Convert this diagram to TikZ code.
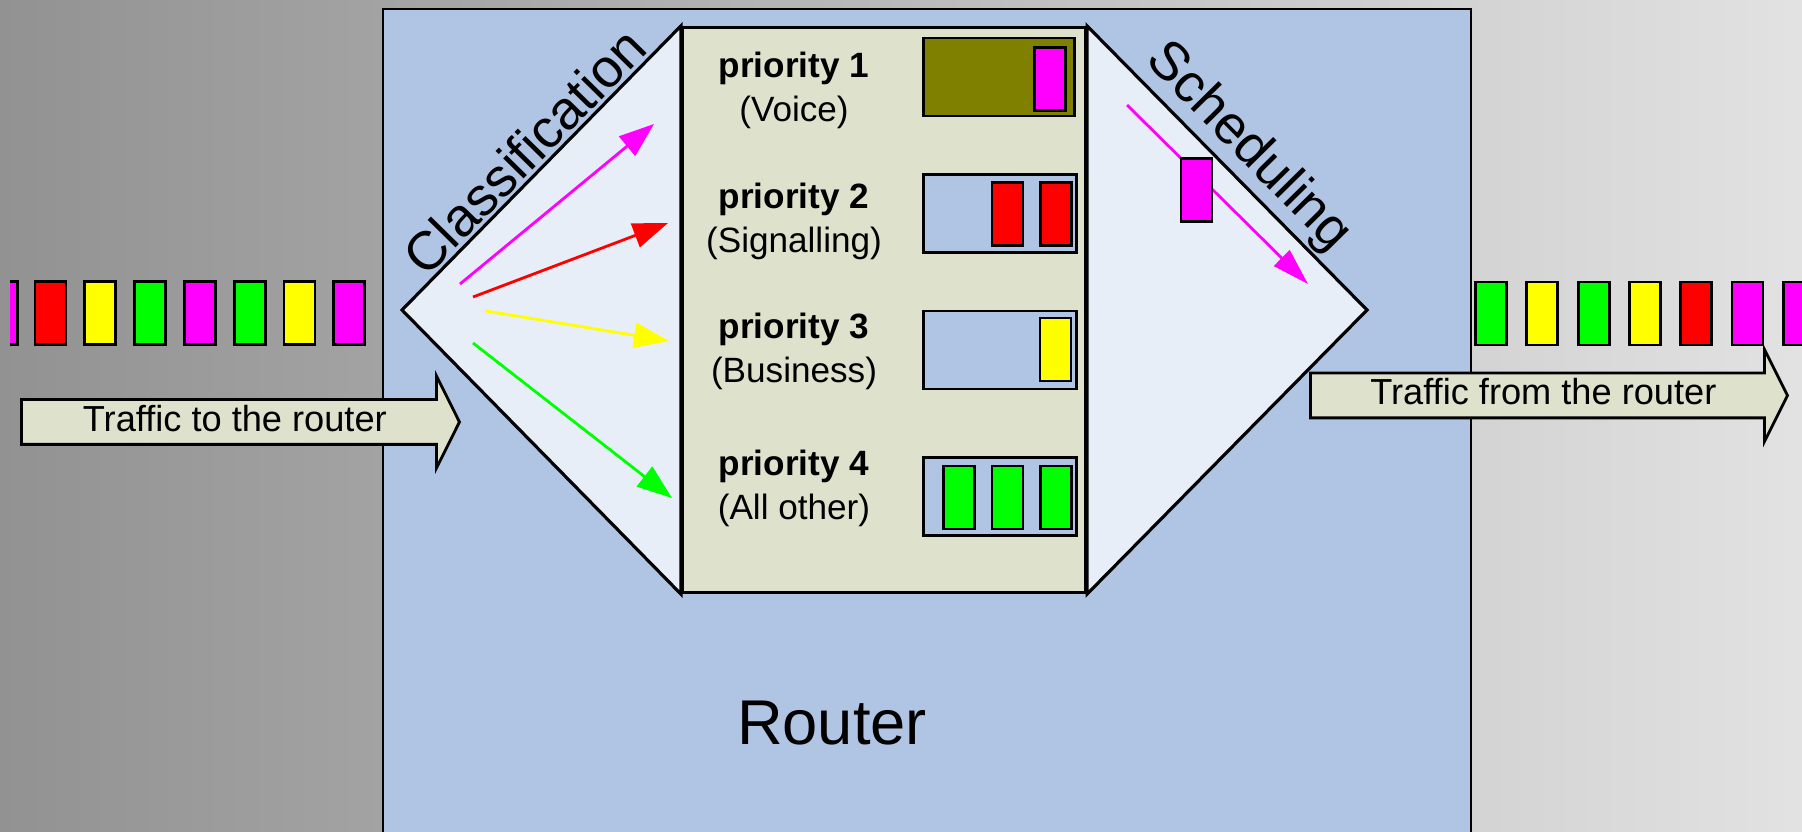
\documentclass[tikz,border=0pt]{standalone}
\usepackage{fontspec}
\setmainfont{Liberation Sans}
\usetikzlibrary{positioning,shapes.arrows,arrows.meta}
\definecolor{routerblue}{RGB}{176,196,228}
\definecolor{hexblue}{RGB}{232,238,248}
\definecolor{queuebeige}{RGB}{222,226,204}
\definecolor{bgdark}{RGB}{146,146,146}
\definecolor{bglight}{RGB}{226,226,226}
\definecolor{voice}{RGB}{255,0,255}
\definecolor{signal}{RGB}{255,0,0}
\definecolor{business}{RGB}{255,255,0}
\definecolor{other}{RGB}{0,255,0}
\definecolor{busyolive}{RGB}{128,128,0}

\begin{document}
\begin{tikzpicture}[node distance=0.16cm,
  packet/.style={rectangle, draw, line width=0.8pt, minimum width=0.31cm, minimum height=0.63cm, inner sep=0pt},
  queue/.style={rectangle, draw, line width=0.8pt, fill=routerblue, minimum width=1.53cm, minimum height=0.78cm},
  prio/.style={align=center, font=\fontsize{10}{12.5}\selectfont},
  edgetext/.style={midway, sloped, above, inner sep=1pt, font=\fontsize{15.4}{18}\selectfont},
  flow/.style={-{Triangle[length=0.35cm, width=0.25cm]}, line width=0.8pt},
  traffic/.style={single arrow, draw, line width=0.8pt, fill=queuebeige, font=\fontsize{10.3}{12}\selectfont,
    text height=0.26cm, text depth=0.07cm, inner ysep=0.045cm, inner xsep=0pt,
    single arrow head extend=0.235cm, single arrow tip angle=127, single arrow head indent=0pt}]
	\clip (0,0) rectangle (18.02,-8.32);
	\shade [left color=bgdark, right color=bglight] (0,0) rectangle (18.02,-8.32);
	\node (router) [rectangle, draw, line width=0.8pt, fill=routerblue, minimum width=10.88cm, minimum height=8.6cm] at (9.27,-4.39) {};
	\node (routerlabel) [font=\fontsize{18}{21}\selectfont] at (8.32,-7.23) {Router};
	\node (classes) [rectangle, draw, line width=0.9pt, fill=queuebeige, minimum width=4.03cm, minimum height=5.65cm] at (8.84,-3.10) {};
	\coordinate (inlet) at (4.02,-3.10);
	\coordinate (outlet) at (13.67,-3.10);
	\draw [line width=0.9pt, fill=hexblue] (inlet) -- (classes.north west) -- (classes.south west) -- cycle;
	\draw [line width=0.9pt, fill=hexblue] (classes.north east) -- (outlet) -- (classes.south east) -- cycle;
	\path (inlet) -- (classes.north west) node[edgetext] (classlabel) {Classification};
	\path (classes.north east) -- (outlet) node[edgetext] (schedlabel) {Scheduling};

	\node (prio1) [prio] at (7.94,-0.90) {\textbf{priority 1}\\(Voice)};
	\node (prio2) [prio] at (7.94,-2.21) {\textbf{priority 2}\\(Signalling)};
	\node (prio3) [prio] at (7.94,-3.51) {\textbf{priority 3}\\(Business)};
	\node (prio4) [prio] at (7.94,-4.88) {\textbf{priority 4}\\(All other)};

	\node (q1) [queue, fill=busyolive, minimum width=1.51cm] at (9.99,-0.77) {};
	\node (q2) [queue] at (10.00,-2.135) {};
	\node (q3) [queue] at (10.00,-3.50) {};
	\node (q4) [queue] at (10.00,-4.965) {};
	\node (q1a) [packet, fill=voice] at (10.50,-0.79) {};
	\node (q2a) [packet, fill=signal] at (10.56,-2.14) {};
	\node (q2b) [packet, fill=signal] at (10.075,-2.14) {};
	\node (q3a) [packet, fill=business] at (10.555,-3.495) {};
	\node (q4a) [packet, fill=other] at (10.56,-4.975) {};
	\node (q4b) [packet, fill=other] at (10.075,-4.975) {};
	\node (q4c) [packet, fill=other] at (9.59,-4.975) {};

	\coordinate (split1) at (4.60,-2.84); \coordinate (sort1) at (6.54,-1.24);
	\coordinate (split2) at (4.73,-2.97); \coordinate (sort2) at (6.68,-2.23);
	\coordinate (split3) at (4.86,-3.11); \coordinate (sort3) at (6.69,-3.41);
	\coordinate (split4) at (4.73,-3.43); \coordinate (sort4) at (6.72,-4.98);
	\draw [flow, voice] (split1) -- (sort1);
	\draw [flow, signal] (split2) -- (sort2);
	\draw [flow, business] (split3) -- (sort3);
	\draw [flow, other] (split4) -- (sort4);
	\coordinate (pick) at (11.27,-1.05); \coordinate (send) at (13.08,-2.84);
	\draw [flow, voice, -{Triangle[length=0.37cm, width=0.22cm]}] (pick) -- (send);
	\node (sent) [packet, fill=voice] at (11.965,-1.90) {};

	\node (inflow) [traffic, minimum height=4.38cm, anchor=tip] at (4.61,-4.22) {Traffic to the router};
	\node (outflow) [traffic, minimum height=4.77cm, anchor=tip] at (17.89,-3.955) {Traffic from the router};

	\begin{scope}
		\clip (0.10,0) rectangle (1,-8.32);
		\node (in0) [packet, fill=voice] at (0.02,-3.13) {};
	\end{scope}
	\node (in1) [packet, fill=signal] at (0.505,-3.13) {};
	\node (in2) [packet, fill=business, right=of in1] {};
	\node (in3) [packet, fill=other, right=of in2] {};
	\node (in4) [packet, fill=voice, right=of in3] {};
	\node (in5) [packet, fill=other, right=of in4] {};
	\node (in6) [packet, fill=business, right=of in5] {};
	\node (in7) [packet, fill=voice, right=of in6] {};

	\node (out1) [packet, fill=other] at (14.91,-3.135) {};
	\node (out2) [packet, fill=business, right=0.175cm of out1] {};
	\node (out3) [packet, fill=other, right=0.175cm of out2] {};
	\node (out4) [packet, fill=business, right=0.175cm of out3] {};
	\node (out5) [packet, fill=signal, right=0.175cm of out4] {};
	\node (out6) [packet, fill=voice, right=0.175cm of out5] {};
	\node (out7) [packet, fill=voice, right=0.175cm of out6] {};
\end{tikzpicture}
\end{document}
